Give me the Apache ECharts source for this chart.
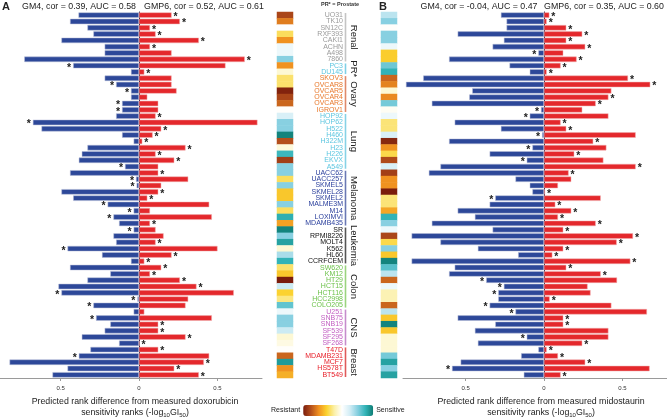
<!DOCTYPE html>
<html><head><meta charset="utf-8">
<script src="https://cdn.jsdelivr.net/npm/echarts@6/dist/echarts.min.js"></script>
<style>html,body{margin:0;padding:0;background:#fff}#c{width:667px;height:418px}</style>
</head><body><div id="c"></div>
<script>
// ---------------- DATA ----------------
const cellLines = ['UO31','TK10','SN12C','RXF393','CAKI1','ACHN','A498','7860',
  'PC3','DU145',
  'SKOV3','OVCAR8','OVCAR5','OVCAR4','OVCAR3','IGROV1',
  'HOP92','HOP62','H522','H460','H322M','H23','H226','EKVX','A549',
  'UACC62','UACC257','SKMEL5','SKMEL28','SKMEL2','MALME3M','M14','LOXIMVI','MDAMB435',
  'SR','RPMI8226','MOLT4','K562','HL60','CCRFCEM',
  'SW620','KM12','HT29','HCT15','HCT116','HCC2998','COLO205',
  'U251','SNB75','SNB19','SF539','SF295','SF268',
  'T47D','MDAMB231','MCF7','HS578T','BT549'];
const groupNames = ['Renal','PR*','Ovary','Lung','Melanoma','Leukemia','Colon','CNS','Breast'];
const groupSizes = [8,2,6,9,9,6,7,6,5];

// Panel A: doxorubicin
const doxGM4 = [-0.386,-0.44,-0.329,-0.291,-0.495,-0.219,-0.219,-0.732,-0.42,-0.051,
  -0.219,-0.146,-0.051,-0.051,-0.108,-0.108,-0.146,-0.677,-0.622,-0.108,
  -0.034,-0.329,-0.365,-0.384,-0.089,-0.44,-0.019,-0.015,-0.495,-0.42,
  -0.2,-0.034,-0.163,-0.127,-0.034,-0.163,-0.146,-0.456,-0.236,-0.051,
  -0.44,-0.183,-0.329,-0.514,-0.495,-0.01,-0.291,-0.034,-0.274,-0.183,
  -0.219,-0.365,-0.127,-0.31,-0.384,-0.826,-0.456,-0.552];
const doxGM4Star = [0,0,0,0,0,0,0,0,1,0, 0,1,1,0,1,1,0,1,0,0, 0,0,0,0,1,0,1,1,0,0,
  1,1,1,0,1,0,0,1,0,0, 0,0,0,0,1,1,1,0,1,0, 0,0,0,0,1,0,0,0];
const doxGMP6 = [0.208,0.261,0.07,0.106,0.382,0.07,0.208,0.675,0.552,0.034,
  0.208,0.208,0.24,0.053,0.123,0.123,0.106,0.756,0.142,0.087,
  0.021,0.297,0.106,0.225,0.123,0.123,0.314,0.142,0.123,0.053,
  0.448,0.07,0.465,0.07,0.106,0.157,0.106,0.501,0.208,0.034,
  0.142,0.07,0.261,0.367,0.605,0.314,0.297,0.034,0.465,0.123,
  0.123,0.297,0.004,0.123,0.448,0.414,0.225,0.382];
const doxGMP6Star = [1,1,1,1,1,1,0,1,0,1, 0,0,0,0,0,0,1,0,1,1, 1,1,1,1,0,1,0,0,1,1,
  0,0,0,1,0,0,1,0,1,1, 1,1,1,1,0,0,0,0,0,1, 1,1,1,1,0,1,1,1];
const doxHeat = [-0.82,-0.62,0.12,-0.25,-0.55,0.2,0.2,0.55,-0.55,0,
  -0.22,-0.22,-0.97,-0.82,-0.7,0.1,0.3,0.55,0.55,0.97,
  -0.78,0.02,0.75,-0.85,0.55,0.55,-0.25,0.55,-0.37,-0.37,
  0.55,-0.25,0.8,-0.5,0.97,0.55,0.85,0,0.45,0.78,
  -0.22,-0.37,-1,0.35,-0.33,-0.18,0.65,0.2,0.55,0.55,
  0.35,0,0.04,0.1,-0.7,0.88,-0.55,-0.45];

// Panel B: midostaurin
const midoGM4 = [-0.275,-0.239,-0.239,-0.551,-0.256,-0.328,-0.036,-0.606,-0.22,-0.091,
  -0.771,-0.881,-0.458,-0.477,-0.716,-0.019,-0.091,-0.57,-0.275,-0.012,
  -0.606,-0.074,-0.347,-0.11,-0.661,-0.735,-0.182,-0.091,-0.074,-0.311,
  -0.347,-0.551,-0.441,-0.716,-0.328,-0.845,-0.661,-0.422,-0.165,-0.845,
  -0.57,-0.606,-0.369,-0.256,-0.292,-0.292,-0.347,-0.182,-0.551,-0.311,
  -0.441,-0.11,-0.422,-0.036,-0.146,-0.532,-0.587,-0.129];
const midoGM4Star = [0,0,0,0,0,0,1,0,0,0, 0,0,0,0,0,1,1,0,0,1, 0,1,0,1,0,0,0,0,0,1,
  0,0,0,0,0,0,0,0,0,0, 0,0,1,1,1,0,1,1,0,0, 0,1,0,0,0,0,1,0];
const midoGMP6 = [0.034,0.017,0.142,0.244,0.142,0.263,0.123,0.208,0.106,0.017,
  0.536,0.678,0.43,0.411,0.33,0.244,0.411,0.106,0.142,0.585,
  0.314,0.398,0.193,0.379,0.585,0.157,0.174,0.089,0.006,0.362,
  0.072,0.174,0.089,0.33,0.123,0.568,0.464,0.123,0.053,0.551,
  0.142,0.362,0.466,0.278,0.297,0.036,0.43,0.657,0.123,0.123,
  0.411,0.411,0.244,0.017,0.089,0.263,0.674,0.106];
const midoGMP6Star = [1,1,1,1,1,1,0,1,1,1, 1,1,0,1,1,0,0,1,1,0, 1,0,1,0,1,1,0,0,1,0,
  1,1,1,1,1,1,1,1,1,1, 1,1,0,0,0,1,0,0,1,1, 0,0,1,1,1,1,0,1];
const midoHeat = [0.4,0.55,0.1,0.55,0.55,0.2,-0.35,-0.35,0.62,0.78,
  -0.7,-0.6,0,-0.58,0.6,0.08,0.2,-0.2,-0.2,0.3,
  -0.95,-0.55,-0.28,-0.8,0.3,-0.85,-0.55,-0.55,-1,-0.2,
  -0.2,-0.48,0.78,0.55,0.2,-0.82,-0.28,0.55,-0.37,0.97,
  0.68,0.4,-0.7,0.2,-0.08,-0.08,-0.7,0.4,-0.37,0.97,
  -0.37,0,0,0,0.6,0.85,0.55,0.85];

const tickValues = [-0.5, 0, 0.5];

// ---------------- STYLE ----------------
const groupTextColors = ['#9a9a9a','#5cc6e0','#e8782a','#5cc6e0','#2a3f9c','#111111','#6cc24a','#c25ec2','#e8202a'];
const groupLineColors = ['#c4c4c4','#7fd0e6','#e08a6a','#86d2e6','#6a78b4','#555555','#9ad47e','#c68ccc','#e05a5a'];
const BLUE = '#2d4899', RED = '#e4282c';
const FONT = '"Liberation Sans", Arial, sans-serif';

// row -> group index
const rowGroup = [];
groupSizes.forEach((n, g) => { for (let k = 0; k < n; k++) rowGroup.push(g); });
const groupRanges = [];
{ let s = 0; groupSizes.forEach((n, g) => { groupRanges.push([s, s + n - 1, g]); s += n; }); }

function barData(vals, stars) {
  return vals.map((v, i) => ({ value: v, label: { show: !!stars[i] } }));
}
const rich = {};
groupTextColors.forEach((c, g) => { rich['g' + g] = { color: c, fontSize: 7, fontFamily: FONT }; });

const TOP = 12, H = 366;
function barX(gi, min, max) {
  return {
    type: 'value', gridIndex: gi, min: min, max: max,
    splitLine: { show: false },
    axisLine: { show: true, lineStyle: { color: '#9a9a9a', width: 1 } },
    axisTick: { show: true, customValues: tickValues, length: 3, lineStyle: { color: '#9a9a9a' } },
    axisLabel: { show: true, customValues: tickValues, fontSize: 6, color: '#333', margin: 7,
      fontFamily: FONT, formatter: v => String(Math.abs(v)) }
  };
}
function barY(gi) {
  return { type: 'category', gridIndex: gi, data: cellLines, inverse: true,
    axisLine: { show: true, onZero: true, lineStyle: { color: '#1a1a3a', width: 1 } },
    axisTick: { show: false }, axisLabel: { show: false } };
}
const barCommon = { type: 'bar', barGap: '-100%', barCategoryGap: '14%',
  label: { show: false, formatter: '*', fontSize: 10.5, fontWeight: 'bold', color: '#222', distance: 2,
    offset: [0, 2], fontFamily: FONT },
  emphasis: { disabled: true } };

const subRich = { s: { fontSize: 6, fontFamily: FONT, fill: '#222', padding: [5, 0, 0, 0] } };
function axisTitle(cx, line1) {
  return { type: 'text', x: cx, y: 396, silent: true,
    style: { text: line1 + '\nsensitivity ranks (-log{s|10}GI{s|50})', font: '8.8px ' + FONT,
      fill: '#222', align: 'center', verticalAlign: 'top', lineHeight: 11, rich: subRich } };
}

const option = {
  animation: false,
  backgroundColor: '#fff',
  grid: [
    { left: 0, top: TOP, width: 262, height: H },
    { left: 403, top: TOP, width: 264, height: H },
    { left: 277, top: TOP, width: 16, height: H },
    { left: 381, top: TOP, width: 16, height: H },
    { left: 340, top: TOP, width: 30, height: H }
  ],
  xAxis: [
    barX(0, -0.887, 0.785),
    barX(1, -0.9, 0.785),
    { type: 'category', gridIndex: 2, data: ['x'], show: false },
    { type: 'category', gridIndex: 3, data: ['x'], show: false },
    { type: 'value', gridIndex: 4, min: 0, max: 30, show: false }
  ],
  yAxis: [
    barY(0), barY(1),
    { type: 'category', gridIndex: 2, data: cellLines, inverse: true, position: 'right',
      axisLine: { show: false }, axisTick: { show: false },
      axisLabel: { show: true, interval: 0, align: 'right', margin: 50,
        formatter: (v, i) => '{g' + rowGroup[i] + '|' + v + '}', rich: rich } },
    { type: 'category', gridIndex: 3, data: cellLines, inverse: true, show: false },
    { type: 'category', gridIndex: 4, data: cellLines, inverse: true, show: false }
  ],
  visualMap: {
    type: 'continuous', min: -1, max: 1, seriesIndex: [4, 5], orient: 'horizontal',
    left: 271, top: 405, padding: 0, itemWidth: 11, itemHeight: 70, textGap: 3,
    calculable: false, realtime: false, hoverLink: false,
    text: ['Sensitive', 'Resistant'],
    textStyle: { fontSize: 7, color: '#222', fontFamily: FONT },
    inRange: { color: ['#7a1c0c','#b5501c','#f09020','#fbd22e','#fbf0a8','#ffffff','#d2edf5','#86cfe0','#32b4b8','#0e7d74'] }
  },
  series: [
    Object.assign({}, barCommon, { name: 'GM4 dox', xAxisIndex: 0, yAxisIndex: 0,
      itemStyle: { color: BLUE, borderColor: '#b8bfd8', borderWidth: 0.5 },
      label: Object.assign({}, barCommon.label, { position: 'left' }),
      data: barData(doxGM4, doxGM4Star) }),
    Object.assign({}, barCommon, { name: 'GMP6 dox', xAxisIndex: 0, yAxisIndex: 0,
      itemStyle: { color: RED, borderColor: '#f0b0b0', borderWidth: 0.5 },
      label: Object.assign({}, barCommon.label, { position: 'right' }),
      data: barData(doxGMP6, doxGMP6Star) }),
    Object.assign({}, barCommon, { name: 'GM4 mido', xAxisIndex: 1, yAxisIndex: 1,
      itemStyle: { color: BLUE, borderColor: '#b8bfd8', borderWidth: 0.5 },
      label: Object.assign({}, barCommon.label, { position: 'left' }),
      data: barData(midoGM4, midoGM4Star) }),
    Object.assign({}, barCommon, { name: 'GMP6 mido', xAxisIndex: 1, yAxisIndex: 1,
      itemStyle: { color: RED, borderColor: '#f0b0b0', borderWidth: 0.5 },
      label: Object.assign({}, barCommon.label, { position: 'right' }),
      data: barData(midoGMP6, midoGMP6Star) }),
    { type: 'heatmap', xAxisIndex: 2, yAxisIndex: 2, emphasis: { disabled: true },
      data: doxHeat.map((v, i) => [0, i, v]) },
    { type: 'heatmap', xAxisIndex: 3, yAxisIndex: 3, emphasis: { disabled: true },
      data: midoHeat.map((v, i) => [0, i, v]) },
    { type: 'custom', xAxisIndex: 4, yAxisIndex: 4, silent: true,
      data: groupRanges,
      renderItem: function (params, api) {
        const s = api.value(0), e = api.value(1), g = api.value(2);
        const band = api.size([0, 1])[1];
        const p0 = api.coord([5.5, s]), p1 = api.coord([5.5, e]);
        const y0 = p0[1] - band / 2 + 1, y1 = p1[1] + band / 2 - 1;
        const tc = api.coord([13.5, s]);
        return { type: 'group', children: [
          { type: 'line', shape: { x1: p0[0], y1: y0, x2: p0[0], y2: y1 },
            style: { stroke: groupLineColors[g], lineWidth: 1.6 } },
          { type: 'text', x: tc[0], y: (y0 + y1) / 2, rotation: -Math.PI / 2,
            style: { x: 0, y: 0, text: groupNames[g], fill: '#222', font: '9.5px ' + FONT,
              align: 'center', verticalAlign: 'middle' } }
        ] };
      } }
  ],
  graphic: [
    { type: 'text', x: 2, y: 1, style: { text: 'A', font: 'bold 11px ' + FONT, fill: '#222' } },
    { type: 'text', x: 379, y: 1, style: { text: 'B', font: 'bold 11px ' + FONT, fill: '#222' } },
    { type: 'text', x: 79, y: 7, style: { text: 'GM4, cor = 0.39, AUC = 0.58', font: '8.8px ' + FONT, fill: '#222', align: 'center', verticalAlign: 'middle' } },
    { type: 'text', x: 204, y: 7, style: { text: 'GMP6, cor = 0.52, AUC = 0.61', font: '8.8px ' + FONT, fill: '#222', align: 'center', verticalAlign: 'middle' } },
    { type: 'text', x: 479, y: 7, style: { text: 'GM4, cor = -0.04, AUC = 0.47', font: '8.8px ' + FONT, fill: '#222', align: 'center', verticalAlign: 'middle' } },
    { type: 'text', x: 604, y: 7, style: { text: 'GMP6, cor = 0.35, AUC = 0.60', font: '8.8px ' + FONT, fill: '#222', align: 'center', verticalAlign: 'middle' } },
    { type: 'text', x: 340, y: 4, style: { text: 'PR* = Prostate', font: 'bold 5.5px ' + FONT, fill: '#333', align: 'center', verticalAlign: 'middle' } },
    axisTitle(135, 'Predicted rank difference from measured doxorubicin'),
    axisTitle(541, 'Predicted rank difference from measured midostaurin')
  ]
};
const chart = echarts.init(document.getElementById('c'), null, { renderer: 'canvas' });
chart.setOption(option);
</script>
</body></html>
